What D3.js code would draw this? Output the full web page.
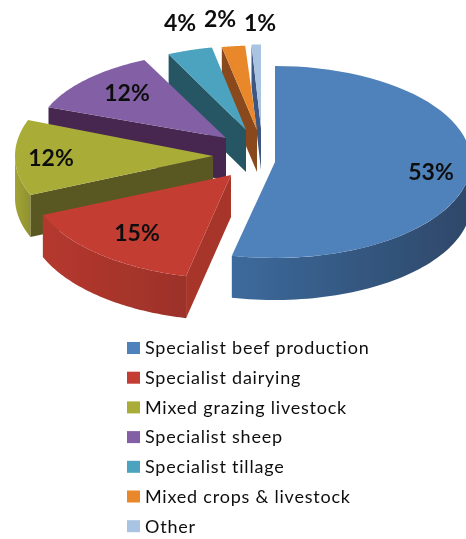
<!DOCTYPE html>
<html>
<head>
<meta charset="utf-8">
<script src="https://cdnjs.cloudflare.com/ajax/libs/d3/7.8.5/d3.min.js"></script>
<style>
  html, body { margin: 0; padding: 0; background: #fff; }
  svg { display: block; }
  text { font-family: Lato, "Open Sans", sans-serif; fill: #111; }
</style>
</head>
<body>
<div id="chart"></div>
<script>
// chart data
var categories = ["Specialist beef production", "Specialist dairying", "Mixed grazing livestock",
                  "Specialist sheep", "Specialist tillage", "Mixed crops & livestock", "Other"];
var shares = [53, 15, 12, 12, 4, 2, 1];

// colours per slice: top surface, cut face, outer wall (left and right end of its gradient)
var topColors  = ["#4f81ba", "#c33d33", "#a9ad38", "#8360a5", "#4ba3bf", "#e9882b", "#a9c3e3"];
var faceColors = ["#2f4b70", "#a8362b", "#5a5823", "#46284f", "#265663", "#8a4a1f", "#3d5682"];
var wallLeft   = ["#3c6a9c", "#b5382e", "#a2a436", "#46284f", "#265663", "#8a4a1f", "#3d5682"];
var wallRight  = ["#2e4768", "#9c3229", "#8f9130", "#46284f", "#265663", "#8a4a1f", "#3d5682"];

// how far each slice is pulled out of the pie, in px
var explodeX = [25, -19, -37, -24, -4, 7, 11];
var explodeY = [12, 25, 6, -12, -20, -20, -22];

// perspective: slices at the back are drawn smaller than the ones in front
var perspX = [0.98, 1.02, 0.99, 0.95, 0.9, 0.93, 0.75];
var perspY = [1, 1.08, 1.05, 0.9, 0.875, 0.88, 0.87];

// label placement
var labelX = [431, 137, 51, 127, 180, 220, 260];
var labelY = [172, 233, 158, 93, 23, 19, 23];

var width = 466, height = 539;
var cx = 250, cy = 150, rx = 200, ry = 96, depth = 42;
var legendX = 127, legendTop = 348, legendStep = 29.7;

var svg = d3.select("#chart").append("svg")
    .attr("width", width)
    .attr("height", height);

var defs = svg.append("defs");
defs.append("filter").attr("id", "soft")
    .append("feGaussianBlur").attr("stdDeviation", 0.5);
defs.append("filter").attr("id", "softText")
    .append("feGaussianBlur").attr("stdDeviation", 0.35);

var pie = d3.pie().sort(null)(shares);

// project a pie angle onto the tilted ellipse
var px = d3.scaleLinear().domain([-1, 1]).range([-rx, rx]);
var py = d3.scaleLinear().domain([-1, 1]).range([ry, -ry]);
var rim = function (a, i) {
    return [cx + explodeX[i] + perspX[i] * px(Math.sin(a)),
	    cy + explodeY[i] + perspY[i] * py(Math.cos(a))];
};
var arcPoints = function (a0, a1, i) {
    return d3.range(0, 61).map(function (k) {
	return rim(a0 + (a1 - a0) * k / 60, i);
    });
};
var line = d3.line();
var drop = function (p) { return [p[0], p[1] + depth]; };

var g = svg.append("g").attr("filter", "url(#soft)");

// back slices first, blue and red last
var order = [6, 5, 4, 3, 2, 1, 0];
order.forEach(function (i) {
    var d = pie[i];
    var apex = [cx + explodeX[i], cy + explodeY[i]];
    var start = rim(d.startAngle, i);
    var top = [apex].concat(arcPoints(d.startAngle, d.endAngle, i));

    // cut face
    g.append("path")
	.attr("d", line([apex, start, drop(start), drop(apex)]) + "Z")
	.attr("fill", faceColors[i]);

    // outer wall, only the part that faces the viewer
    var a0 = Math.max(d.startAngle, Math.PI / 2);
    var a1 = Math.min(d.endAngle, Math.PI * 1.5);
    if (a1 > a0) {
	var edge = arcPoints(a0, a1, i);
	var gradId = "wall" + i;
	var grad = defs.append("linearGradient").attr("id", gradId);
	grad.append("stop").attr("offset", "0%").attr("stop-color", wallLeft[i]);
	grad.append("stop").attr("offset", "100%").attr("stop-color", wallRight[i]);
	g.append("path")
	    .attr("d", line(edge.concat(edge.slice().reverse().map(drop))) + "Z")
	    .attr("fill", "url(#" + gradId + ")");
    }

    g.append("path")
	.attr("d", line(top) + "Z")
	.attr("fill", topColors[i]);
});

// percent labels
svg.append("g").attr("filter", "url(#softText)").selectAll("text")
    .data(shares)
    .enter()
    .append("text")
    .attr("x", function (d, i) { return labelX[i]; })
    .attr("y", function (d, i) { return labelY[i]; })
    .attr("dy", "0.35em")
    .attr("text-anchor", "middle")
    .style("font-size", "23px")
    .style("font-weight", "700")
    .text(function (d) { return d + "%"; });

// legend
var legend = svg.append("g").attr("filter", "url(#softText)").selectAll("g")
    .data(categories)
    .enter()
    .append("g")
    .attr("transform", function (d, i) {
	return "translate(" + legendX + "," + (legendTop + i * legendStep) + ")";
    });
legend.append("rect")
    .attr("x", 0)
    .attr("y", -6)
    .attr("width", 13)
    .attr("height", 12)
    .attr("fill", function (d, i) { return topColors[i]; });
legend.append("text")
    .attr("x", 18)
    .attr("dy", "0.35em")
    .style("font-size", "18px")
    .style("letter-spacing", "0.78px")
    .text(function (d) { return d; });
</script>
</body>
</html>
